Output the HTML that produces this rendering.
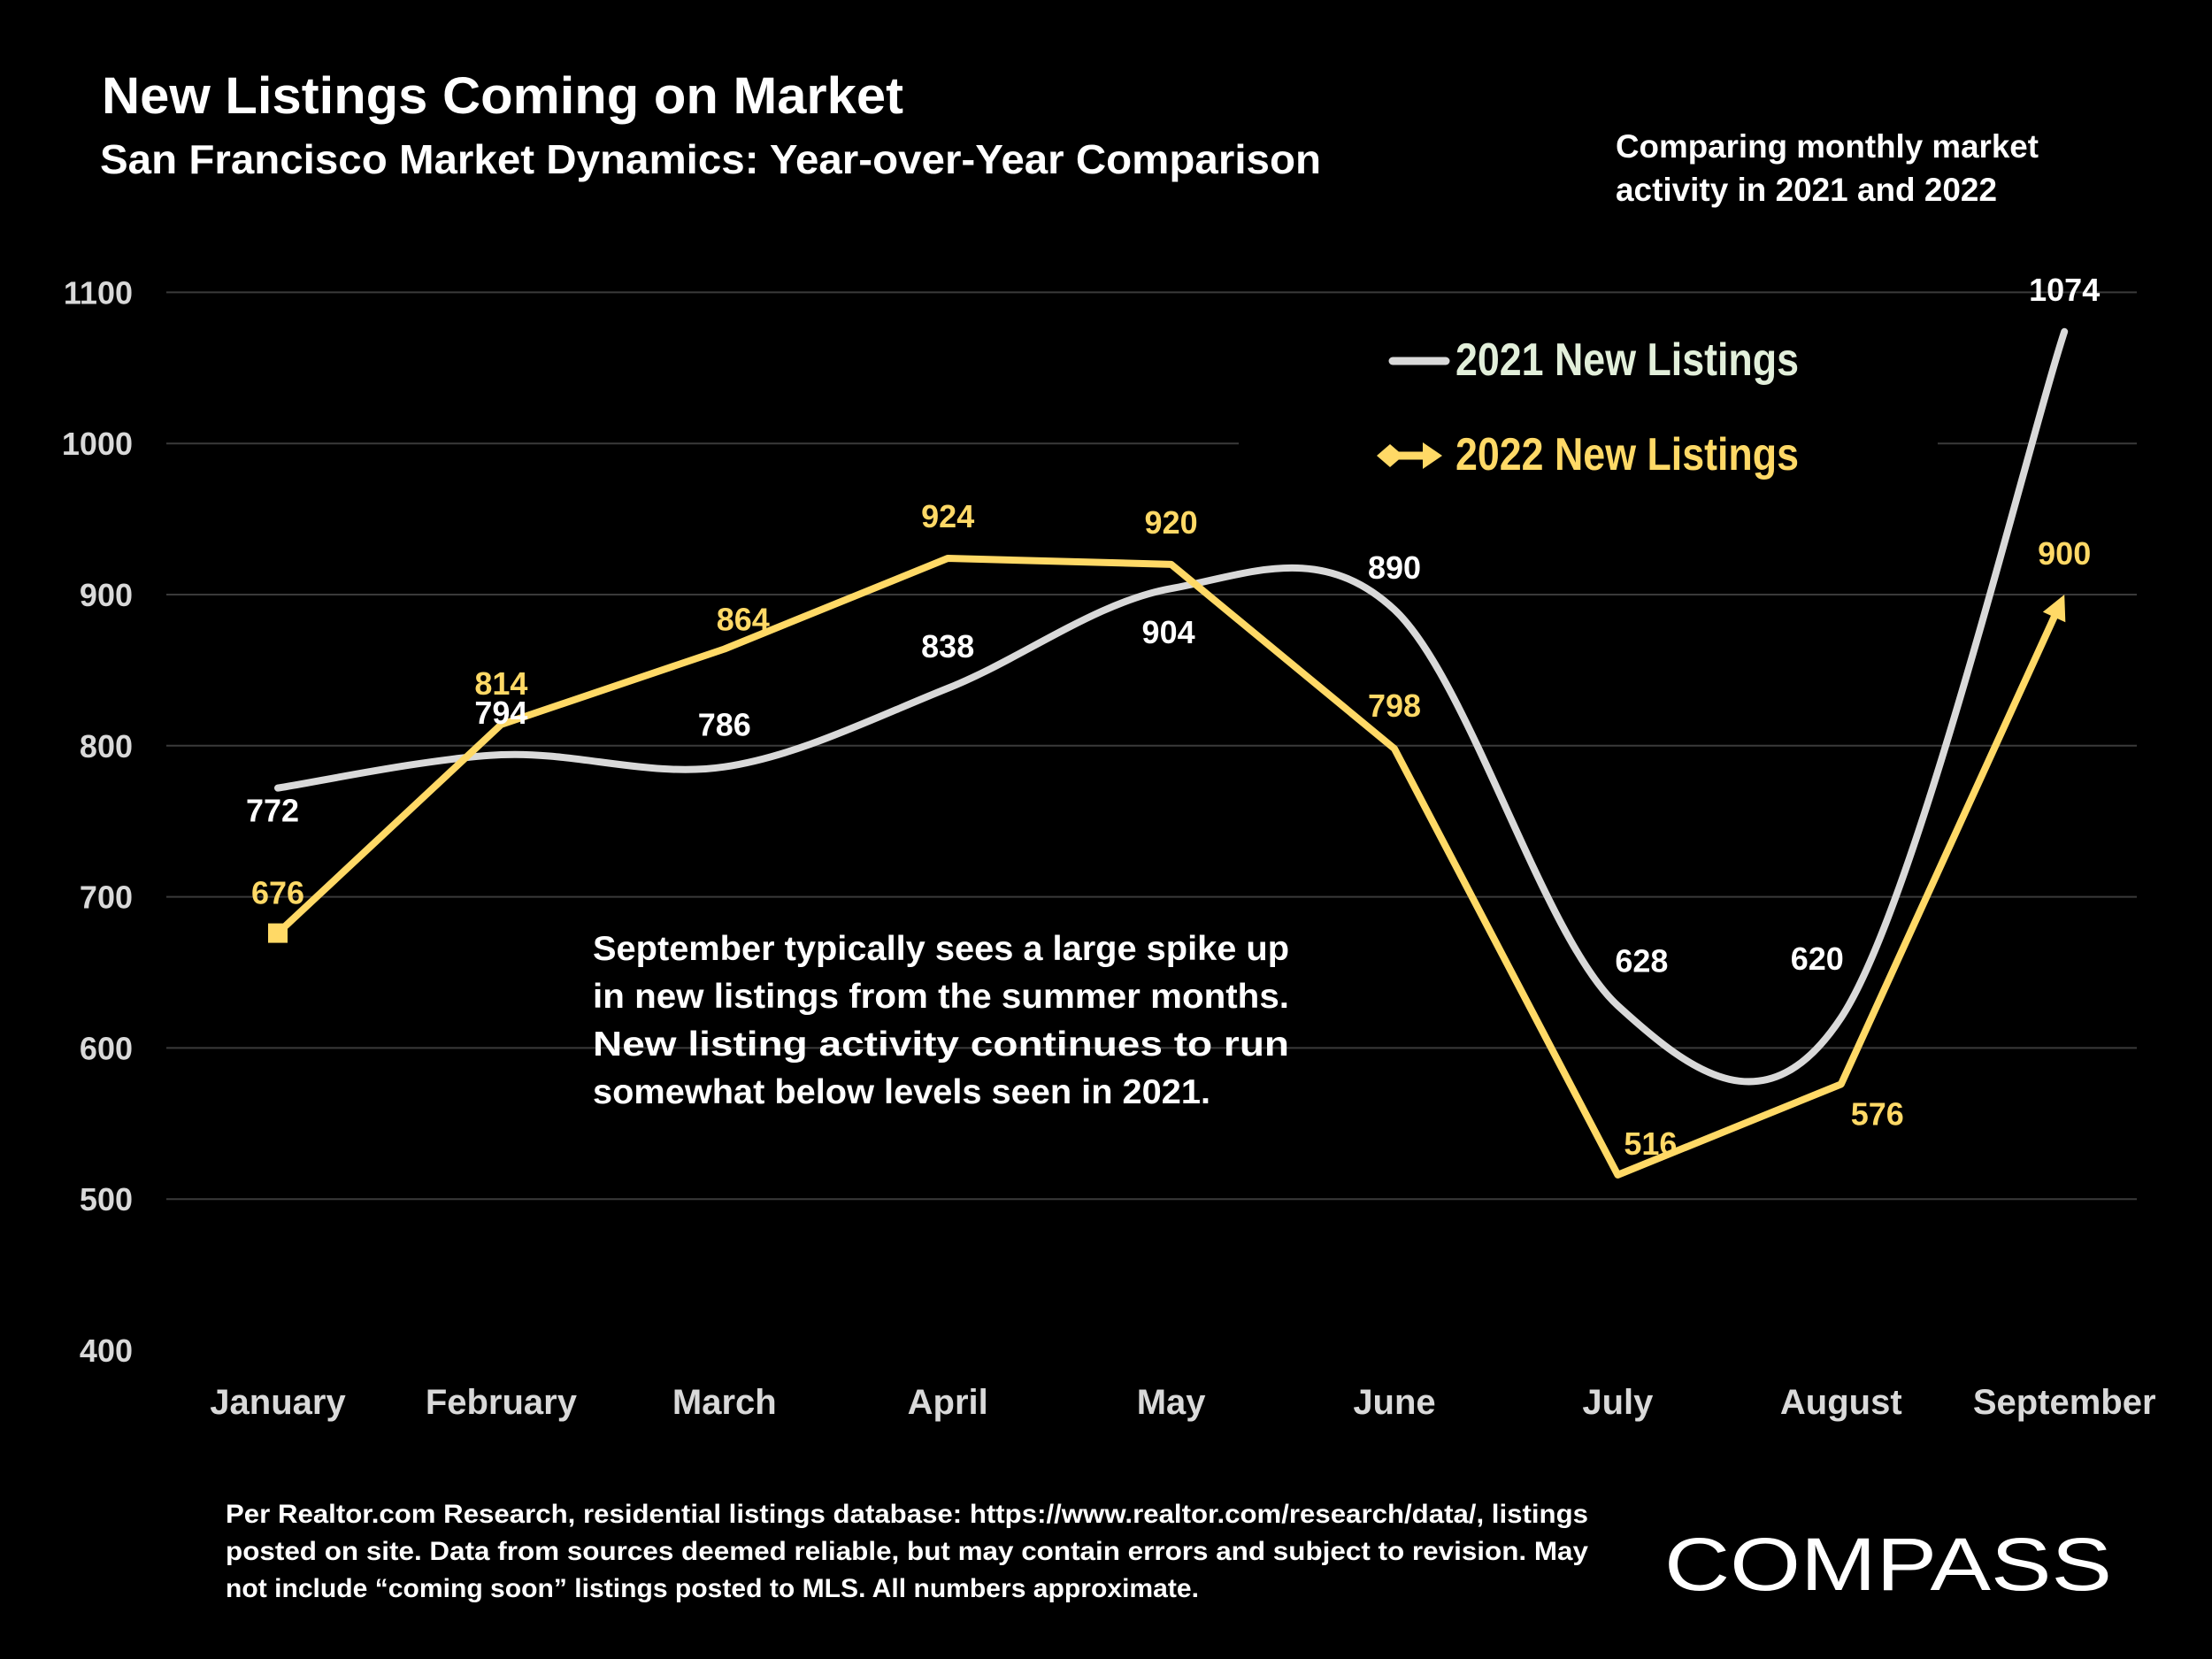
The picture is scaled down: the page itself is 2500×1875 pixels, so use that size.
<!DOCTYPE html>
<html><head><meta charset="utf-8"><style>
html,body{margin:0;padding:0;background:#000;}
svg{display:block;font-family:"Liberation Sans",sans-serif;font-weight:bold;}
</style></head><body>
<svg id="chart" width="2500" height="1875" viewBox="0 0 2500 1875">
<rect width="2500" height="1875" fill="#000"/>
<text x="115" y="128" font-size="58" fill="#fff" textLength="906" lengthAdjust="spacingAndGlyphs">New Listings Coming on Market</text>
<text x="113" y="196" font-size="46" fill="#fff" textLength="1380" lengthAdjust="spacingAndGlyphs">San Francisco Market Dynamics: Year-over-Year Comparison</text>
<text x="1826" y="178" font-size="37" fill="#fff" textLength="478" lengthAdjust="spacingAndGlyphs">Comparing monthly market</text>
<text x="1826" y="227" font-size="37" fill="#fff" textLength="431" lengthAdjust="spacingAndGlyphs">activity in 2021 and 2022</text>
<g id="grid"></g>
<g id="ylabels"></g>
<g id="xlabels"></g>
<rect x="1400" y="370" width="790" height="190" fill="#000"/>
<g>
<line x1="1574" y1="408" x2="1634" y2="408" stroke="#d9d9d9" stroke-width="9" stroke-linecap="round"/>
<text x="1645" y="424" font-size="52" fill="#e2efda" textLength="388" lengthAdjust="spacingAndGlyphs">2021 New Listings</text>
<polygon points="1556,515 1571,502 1586,515 1571,528" fill="#ffd966"/>
<line x1="1570" y1="515" x2="1612" y2="515" stroke="#ffd966" stroke-width="9"/>
<polygon points="1608,500 1630,515 1608,530" fill="#ffd966"/>
<text x="1645" y="531" font-size="52" fill="#ffd966" textLength="388" lengthAdjust="spacingAndGlyphs">2022 New Listings</text>
</g>
<g id="series"></g>
<g font-size="39" fill="#fff">
<text x="670" y="1085" textLength="787" lengthAdjust="spacingAndGlyphs">September typically sees a large spike up</text>
<text x="670" y="1139" textLength="787" lengthAdjust="spacingAndGlyphs">in new listings from the summer months.</text>
<text x="670" y="1193" textLength="787" lengthAdjust="spacingAndGlyphs">New listing activity continues to run</text>
<text x="670" y="1247" textLength="698" lengthAdjust="spacingAndGlyphs">somewhat below levels seen in 2021.</text>
</g>
<g font-size="30" fill="#fff">
<text x="255" y="1721" textLength="1540" lengthAdjust="spacingAndGlyphs">Per Realtor.com Research, residential listings database:  https://www.realtor.com/research/data/, listings</text>
<text x="255" y="1763" textLength="1540" lengthAdjust="spacingAndGlyphs">posted on site. Data from sources deemed reliable, but may contain errors and subject to revision. May</text>
<text x="255" y="1805" textLength="1100" lengthAdjust="spacingAndGlyphs">not include “coming soon” listings posted to MLS. All numbers approximate.</text>
</g>
<text x="1881" y="1797" font-size="84" font-weight="normal" fill="#fff" textLength="506" lengthAdjust="spacingAndGlyphs">COMPASS</text>
</svg>
<script>
const months = ["January","February","March","April","May","June","July","August","September"];
const values2021 = [772,794,786,838,904,890,628,620,1074];
const values2022 = [676,814,864,924,920,798,516,576,900];
const yTicks = [400,500,600,700,800,900,1000,1100];
const off2021 = [[-6,25],[0,-48],[0,-48],[0,-48],[-3,49],[0,-48],[27,-51],[-27,-67],[0,-48]];
const off2022 = [[0,-46],[0,-47],[21,-34],[0,-48],[0,-48],[0,-49],[37,-36],[41,33],[0,-47]];
const NS="http://www.w3.org/2000/svg";
function xs(i){return 314+i*252.4;}
function ys(v){return 1526-(v-400)*1.708;}
function mk(tag,attrs,parent){const e=document.createElementNS(NS,tag);for(const k in attrs)e.setAttribute(k,attrs[k]);parent.appendChild(e);return e;}
const grid=document.getElementById('grid'),yl=document.getElementById('ylabels'),xl=document.getElementById('xlabels'),ser=document.getElementById('series');
yTicks.forEach(t=>{
  if(t>400){const g=mk('line',{x1:188,x2:2415,y1:ys(t),y2:ys(t),stroke:'#3a3a3a','stroke-width':2},grid);
  
  }
  const l=mk('text',{x:150,y:ys(t)+13,'font-size':36,fill:'#d9d9d9','text-anchor':'end'},yl);l.textContent=t;
  
  
});
months.forEach((m,i)=>{
  const l=mk('text',{x:xs(i),y:1598,'font-size':40,fill:'#d9d9d9','text-anchor':'middle'},xl);l.textContent=m;
  
  
});
const p=values2021.map((v,i)=>[xs(i),ys(v)]);
let d='M'+p[0][0]+','+p[0][1];
for(let i=0;i<p.length-1;i++){const p0=p[i-1]||p[i],p1=p[i],p2=p[i+1],p3=p[i+2]||p2;const t=1/6;
d+=' C'+(p1[0]+(p2[0]-p0[0])*t)+','+(p1[1]+(p2[1]-p0[1])*t)+' '+(p2[0]-(p3[0]-p1[0])*t)+','+(p2[1]-(p3[1]-p1[1])*t)+' '+p2[0]+','+p2[1];}
const l1=mk('path',{d:d,fill:'none',stroke:'#d9d9d9','stroke-width':8,'stroke-linecap':'round'},ser);


const q=values2022.map((v,i)=>[xs(i),ys(v)]);
const n=q.length-1,dx=q[n][0]-q[n-1][0],dy=q[n][1]-q[n-1][1],len=Math.hypot(dx,dy),ux=dx/len,uy=dy/len;
const endX=q[n][0]-ux*20,endY=q[n][1]-uy*20;
const pts=q.slice(0,n).map(a=>a.join(',')).join(' ')+' '+endX+','+endY;
const l2=mk('polyline',{points:pts,fill:'none',stroke:'#ffd966','stroke-width':8,'stroke-linejoin':'round'},ser);


const ar=mk('polygon',{points:q[n][0]+','+q[n][1]+' '+(endX-uy*14-ux*8)+','+(endY+ux*14-uy*8)+' '+(endX+uy*14-ux*8)+','+(endY-ux*14-uy*8),fill:'#ffd966'},ser);


const sq=mk('rect',{x:q[0][0]-11,y:q[0][1]-11,width:22,height:22,fill:'#ffd966'},ser);


values2021.forEach((v,i)=>{const t=mk('text',{x:xs(i)+off2021[i][0],y:ys(v)+off2021[i][1]+13,'font-size':36,fill:'#fff','text-anchor':'middle'},ser);t.textContent=v;

});
values2022.forEach((v,i)=>{const t=mk('text',{x:xs(i)+off2022[i][0],y:ys(v)+off2022[i][1]+13,'font-size':36,fill:'#ffd966','text-anchor':'middle'},ser);t.textContent=v;

});
</script>
</body></html>
